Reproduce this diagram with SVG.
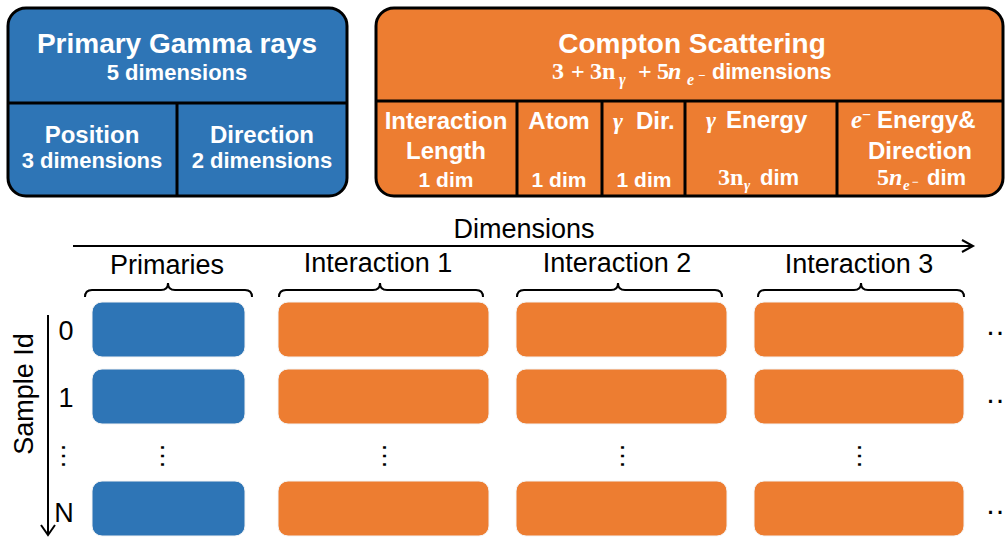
<svg xmlns="http://www.w3.org/2000/svg" width="1005" height="537" viewBox="0 0 1005 537">
<style>
.hd{font-family:"Liberation Sans",Arial,sans-serif;font-weight:bold;fill:#fff}
.t28{font-size:28px}
.t24{font-size:24px}
.t22{font-size:22px}
.t21{font-size:21px}
.mb{font-family:"Liberation Serif","Times New Roman",serif;font-weight:bold;fill:#fff}
.lbl{font-family:"Liberation Sans",Arial,sans-serif;font-size:27px;fill:#000}
.div{stroke:#000;stroke-width:3;fill:none}
.blue{fill:#2E75B6}
.orange{fill:#ED7D31}
.cell{stroke:#f4f4f4;stroke-width:1}
.ln{stroke:#000;stroke-width:2;fill:none}
.dots{font-family:"Liberation Sans",Arial,sans-serif;fill:#000}
</style>

<g id="primary-box">
<rect x="8" y="8" width="339" height="188" rx="18" class="blue" stroke="#000" stroke-width="3"/>
<line x1="8" y1="103" x2="347" y2="103" class="div"/>
<line x1="177" y1="103" x2="177" y2="196" class="div"/>
<text x="177" y="53" text-anchor="middle" class="hd t28">Primary Gamma rays</text>
<text x="177" y="80" text-anchor="middle" class="hd t22">5 dimensions</text>
<text x="92" y="143" text-anchor="middle" class="hd t24">Position</text>
<text x="92" y="168" text-anchor="middle" class="hd t22">3 dimensions</text>
<text x="262" y="143" text-anchor="middle" class="hd t24">Direction</text>
<text x="262" y="168" text-anchor="middle" class="hd t22">2 dimensions</text>
</g>

<g id="compton-box">
<rect x="376" y="8" width="627" height="188" rx="18" class="orange" stroke="#000" stroke-width="3"/>
<line x1="376" y1="101" x2="1003" y2="101" class="div"/>
<line x1="517" y1="101" x2="517" y2="196" class="div"/>
<line x1="602" y1="101" x2="602" y2="196" class="div"/>
<line x1="685" y1="101" x2="685" y2="196" class="div"/>
<line x1="837" y1="101" x2="837" y2="196" class="div"/>
<text x="692" y="53" text-anchor="middle" class="hd t28">Compton Scattering</text>
<text y="79" class="mb" font-size="24"><tspan x="552">3</tspan><tspan x="571">+</tspan><tspan x="590">3n</tspan><tspan x="619" y="85" font-style="italic" font-size="16">γ</tspan><tspan x="638" y="79">+</tspan><tspan x="657">5</tspan><tspan x="668" font-style="italic">n</tspan><tspan x="687" y="85" font-style="italic" font-size="16">e</tspan><tspan x="698" y="80" font-size="13">−</tspan></text>
<text x="712" y="79" class="hd" font-size="21.5">dimensions</text>

<text x="446" y="129" text-anchor="middle" class="hd t24">Interaction</text>
<text x="446" y="159" text-anchor="middle" class="hd t24">Length</text>
<text x="446" y="187" text-anchor="middle" class="hd t21">1 dim</text>

<text x="559" y="129" text-anchor="middle" class="hd t24">Atom</text>
<text x="559" y="187" text-anchor="middle" class="hd t21">1 dim</text>

<text y="129"><tspan x="613" class="mb" font-style="italic" font-size="24">γ</tspan><tspan x="636" class="hd t24">Dir.</tspan></text>
<text x="644" y="187" text-anchor="middle" class="hd t21">1 dim</text>

<text y="128"><tspan x="706" class="mb" font-style="italic" font-size="24">γ</tspan><tspan x="726" class="hd t24">Energy</tspan></text>
<text y="185"><tspan x="718" class="mb" font-size="24">3n</tspan><tspan x="744" y="190" class="mb" font-style="italic" font-size="15">γ</tspan><tspan x="760" y="185" class="hd t22">dim</tspan></text>

<text y="128"><tspan x="851" class="mb" font-style="italic" font-size="25">e</tspan><tspan x="862" y="120" class="mb" font-size="16">−</tspan><tspan x="877" y="128" class="hd t24">Energy&amp;</tspan></text>
<text x="920" y="159" text-anchor="middle" class="hd t24">Direction</text>
<text y="185"><tspan x="877" class="mb" font-size="24">5</tspan><tspan x="889" class="mb" font-style="italic" font-size="24">n</tspan><tspan x="903" y="190" class="mb" font-style="italic" font-size="15">e</tspan><tspan x="912" y="186" class="mb" font-size="12">−</tspan><tspan x="927" y="185" class="hd t22">dim</tspan></text>
</g>

<g id="connectors">
<line x1="73" y1="246" x2="972" y2="246" class="ln"/>
<polyline points="962,240 973,246 962,252" class="ln"/>
<line x1="48" y1="315" x2="48" y2="534" class="ln"/>
<polyline points="41,525 48,535 55,525" class="ln"/>
<path d="M85,297 Q85,290 92,290 L161,290 Q168,290 168,283 Q168,290 175,290 L245,290 Q252,290 252,297" class="ln"/>
<path d="M279,297 Q279,290 286,290 L373,290 Q380,290 380,283 Q380,290 387,290 L476,290 Q483,290 483,297" class="ln"/>
<path d="M517,297 Q517,290 524,290 L611,290 Q618,290 618,283 Q618,290 625,290 L715,290 Q722,290 722,297" class="ln"/>
<path d="M758,297 Q758,290 765,290 L854,290 Q861,290 861,283 Q861,290 868,290 L957,290 Q964,290 964,297" class="ln"/>
</g>

<g id="axis-labels">
<text x="524" y="238" text-anchor="middle" class="lbl">Dimensions</text>
<text x="33" y="394" text-anchor="middle" transform="rotate(-90 33 394)" class="lbl">Sample Id</text>
<text x="167" y="274" text-anchor="middle" class="lbl">Primaries</text>
<text x="378" y="272" text-anchor="middle" class="lbl">Interaction 1</text>
<text x="617" y="272" text-anchor="middle" class="lbl">Interaction 2</text>
<text x="859" y="273" text-anchor="middle" class="lbl">Interaction 3</text>
<text x="66" y="340" text-anchor="middle" class="lbl" font-size="24">0</text>
<text x="66" y="407" text-anchor="middle" class="lbl" font-size="24">1</text>
<text x="64" y="522" text-anchor="middle" class="lbl" font-size="25">N</text>
</g>

<g id="row-0">
<rect x="92" y="302" width="153" height="55" rx="10" class="blue cell"/>
<rect x="278" y="302" width="211" height="55" rx="10" class="orange cell"/>
<rect x="516" y="302" width="211" height="55" rx="10" class="orange cell"/>
<rect x="754" y="302" width="210" height="55" rx="10" class="orange cell"/>
</g>
<g id="row-1">
<rect x="92" y="369" width="153" height="55" rx="10" class="blue cell"/>
<rect x="278" y="369" width="211" height="55" rx="10" class="orange cell"/>
<rect x="516" y="369" width="211" height="55" rx="10" class="orange cell"/>
<rect x="754" y="369" width="210" height="55" rx="10" class="orange cell"/>
</g>
<g id="row-N">
<rect x="92" y="481" width="153" height="55" rx="10" class="blue cell"/>
<rect x="278" y="481" width="211" height="55" rx="10" class="orange cell"/>
<rect x="516" y="481" width="211" height="55" rx="10" class="orange cell"/>
<rect x="754" y="481" width="210" height="55" rx="10" class="orange cell"/>
</g>

<g id="ellipses" class="dots">
<text x="61.5" y="456" text-anchor="middle" font-size="27" transform="rotate(90 61.5 456)">…</text>
<text x="160.5" y="456" text-anchor="middle" font-size="27" transform="rotate(90 160.5 456)">…</text>
<text x="382.5" y="456" text-anchor="middle" font-size="27" transform="rotate(90 382.5 456)">…</text>
<text x="620.5" y="456" text-anchor="middle" font-size="27" transform="rotate(90 620.5 456)">…</text>
<text x="857.5" y="456" text-anchor="middle" font-size="27" transform="rotate(90 857.5 456)">…</text>
<text x="985" y="335" font-size="30">…</text>
<text x="985" y="403" font-size="30">…</text>
<text x="985" y="514" font-size="30">…</text>
</g>
</svg>
